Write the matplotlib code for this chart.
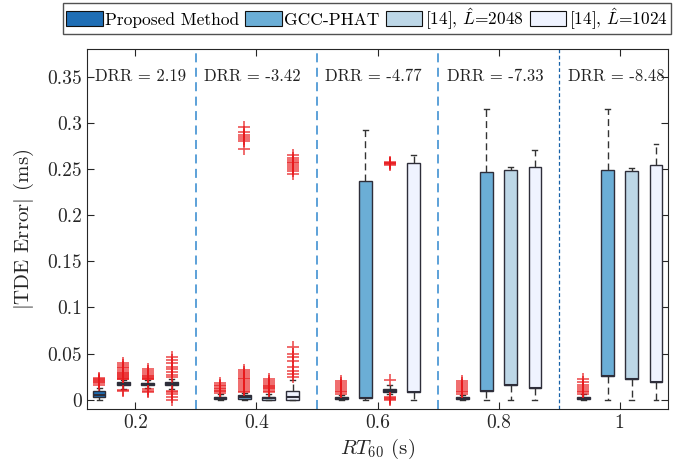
import numpy as np
import matplotlib
matplotlib.use("Agg")
import matplotlib.pyplot as plt
from matplotlib.patches import Patch

plt.rcParams['font.family'] = ['cmr10', 'DejaVu Serif']
plt.rcParams['mathtext.fontset'] = 'cm'
plt.rcParams['axes.unicode_minus'] = False
plt.rcParams['axes.formatter.use_mathtext'] = True

rt60 = [0.2, 0.4, 0.6, 0.8, 1.0]
drr = ['2.19', '-3.42', '-4.77', '-7.33', '-8.48']
methods = ['Proposed Method', 'GCC-PHAT', r'[14], $\hat{L}$=2048', r'[14], $\hat{L}$=1024']
colors = ['#1f6eb5', '#6baed6', '#bdd7e7', '#eff3ff']

# box statistics (ms), one list per method over RT60
prop_q1 = [0.003, 0.0005, 0.0005, 0.0005, 0.0005]
prop_med = [0.005, 0.0015, 0.0012, 0.0012, 0.0012]
prop_q3 = [0.009, 0.003, 0.0025, 0.0025, 0.003]
prop_lo = [0.0, 0.0, 0.0, 0.0, 0.0]
prop_hi = [0.013, 0.006, 0.005, 0.005, 0.006]
prop_fl = [[0.016, 0.018, 0.019, 0.02, 0.021, 0.022, 0.024],
           [0.007, 0.009, 0.01, 0.012, 0.013, 0.015, 0.016, 0.018],
           [0.006, 0.008, 0.01, 0.012, 0.014, 0.016, 0.018, 0.02],
           [0.006, 0.008, 0.01, 0.012, 0.014, 0.016, 0.018, 0.02],
           [0.006, 0.008, 0.01, 0.012, 0.014, 0.016, 0.019, 0.022]]

gcc_q1 = [0.016, 0.0005, 0.0015, 0.009, 0.026]
gcc_med = [0.0175, 0.0025, 0.0015, 0.009, 0.026]
gcc_q3 = [0.0188, 0.0047, 0.237, 0.247, 0.249]
gcc_lo = [0.012, 0.0, 0.0, 0.0, 0.0]
gcc_hi = [0.021, 0.007, 0.292, 0.315, 0.315]
gcc_fl = [[0.009, 0.011, 0.022, 0.023, 0.024, 0.025, 0.026, 0.027, 0.028, 0.029,
           0.03, 0.032, 0.034, 0.036, 0.038, 0.04],
          [0.008, 0.01, 0.012, 0.014, 0.016, 0.018, 0.02, 0.022, 0.024, 0.026,
           0.028, 0.03, 0.032, 0.272, 0.28, 0.283, 0.285, 0.287, 0.29, 0.295],
          [], [], []]

l2048_q1 = [0.0155, 0.0, 0.008, 0.016, 0.022]
l2048_med = [0.017, 0.0015, 0.0098, 0.016, 0.022]
l2048_q3 = [0.0185, 0.0035, 0.0115, 0.249, 0.248]
l2048_lo = [0.013, 0.0, 0.006, 0.0, 0.0]
l2048_hi = [0.021, 0.006, 0.0158, 0.2527, 0.2516]
l2048_fl = [[0.008, 0.01, 0.012, 0.022, 0.023, 0.024, 0.025, 0.026, 0.027, 0.029, 0.031, 0.033],
            [0.008, 0.01, 0.012, 0.013, 0.014, 0.015, 0.016, 0.018, 0.02, 0.022],
            [0.0, 0.001, 0.002, 0.003, 0.021, 0.254, 0.255, 0.256, 0.257, 0.258],
            [], []]

l1024_q1 = [0.016, 0.0003, 0.008, 0.0133, 0.0198]
l1024_med = [0.0175, 0.003, 0.008, 0.0133, 0.0198]
l1024_q3 = [0.019, 0.009, 0.256, 0.2527, 0.2544]
l1024_lo = [0.012, 0.0, 0.0, 0.0, 0.0]
l1024_hi = [0.023, 0.021, 0.265, 0.2707, 0.277]
l1024_fl = [[0.0, 0.003, 0.006, 0.008, 0.01, 0.025, 0.027, 0.03, 0.033, 0.036, 0.04, 0.043, 0.046],
            [0.025, 0.028, 0.031, 0.036, 0.042, 0.046, 0.05, 0.057,
             0.245, 0.248, 0.25, 0.252, 0.254, 0.256, 0.258, 0.26, 0.262, 0.265],
            [], [], []]

all_stats = [
    (prop_q1, prop_med, prop_q3, prop_lo, prop_hi, prop_fl),
    (gcc_q1, gcc_med, gcc_q3, gcc_lo, gcc_hi, gcc_fl),
    (l2048_q1, l2048_med, l2048_q3, l2048_lo, l2048_hi, l2048_fl),
    (l1024_q1, l1024_med, l1024_q3, l1024_lo, l1024_hi, l1024_fl),
]
offsets = [-0.06, -0.02, 0.02, 0.06]

fig = plt.figure(figsize=(6.86, 4.68), dpi=100)
ax = fig.add_axes([0.1268, 0.126, 0.8470, 0.7693])

xmin, xmax = 0.12, 1.08

for k, (q1, med, q3, lo, hi, fl) in enumerate(all_stats):
    stats = []
    for i in range(len(rt60)):
        stats.append(dict(q1=q1[i], med=med[i], q3=q3[i], whislo=lo[i],
                          whishi=hi[i], fliers=np.array(fl[i])))
    pos = [r + offsets[k] for r in rt60]
    bp = ax.bxp(stats, positions=pos, widths=0.021, capwidths=0.008,
                patch_artist=True, manage_ticks=False,
                boxprops=dict(edgecolor='#2e2e3a', linewidth=1.0),
                whiskerprops=dict(color='#333333', linestyle=(0, (5, 3)), linewidth=1.0),
                capprops=dict(color='#333333', linewidth=1.0),
                medianprops=dict(color='#2e2e3a', linewidth=1.5),
                flierprops=dict(marker='+', markeredgecolor='#e8191c', markersize=8,
                                markeredgewidth=1.2, alpha=0.75, linestyle='none'))
    for b in bp['boxes']:
        b.set_facecolor(colors[k])

# group separators
for xs in [0.3, 0.5, 0.7]:
    ax.axvline(xs, color='#4f9ad6', linestyle=(0, (5, 3)), linewidth=1.3, zorder=0)
ax.axvline(0.9, color='#1761a8', linestyle=(0, (3, 2)), linewidth=0.9, zorder=0)

for i, r in enumerate(rt60):
    left = max(r - 0.1, xmin)
    ax.text(left + 0.014, 0.35, 'DRR = ' + drr[i], fontsize=12, va='center', ha='left',
            color='#222222')

ax.set_xlim(xmin, xmax)
ax.set_ylim(-0.01, 0.38)
ax.set_xticks(rt60)
ax.set_xticklabels(['0.2', '0.4', '0.6', '0.8', '1'])
yt = [0, 0.05, 0.1, 0.15, 0.2, 0.25, 0.3, 0.35]
ax.set_yticks(yt)
ax.set_yticklabels(['0', '0.05', '0.1', '0.15', '0.2', '0.25', '0.3', '0.35'])
ax.tick_params(direction='in', top=True, right=True, length=5, labelsize=14,
               color='#262626', labelcolor='#262626')
for s in ax.spines.values():
    s.set_color('#262626')
    s.set_linewidth(0.8)

ax.set_xlabel(r'$RT_{60}$ (s)', fontsize=15, color='#262626', labelpad=4)
ax.set_ylabel(r'$|$TDE Error$|$ (ms)', fontsize=15, color='#262626', labelpad=8)

handles = [Patch(facecolor=c, edgecolor='#111111', linewidth=0.8) for c in colors]
fig.legend(handles, methods, loc='upper center', bbox_to_anchor=(0.535, 0.993), ncol=4,
           fontsize=12.5, frameon=True, fancybox=False, edgecolor='#262626',
           handlelength=2.1, handleheight=0.95, handletextpad=0.15, columnspacing=0.35,
           borderpad=0.15, borderaxespad=0.0)

fig.savefig('out.png', dpi=100)
